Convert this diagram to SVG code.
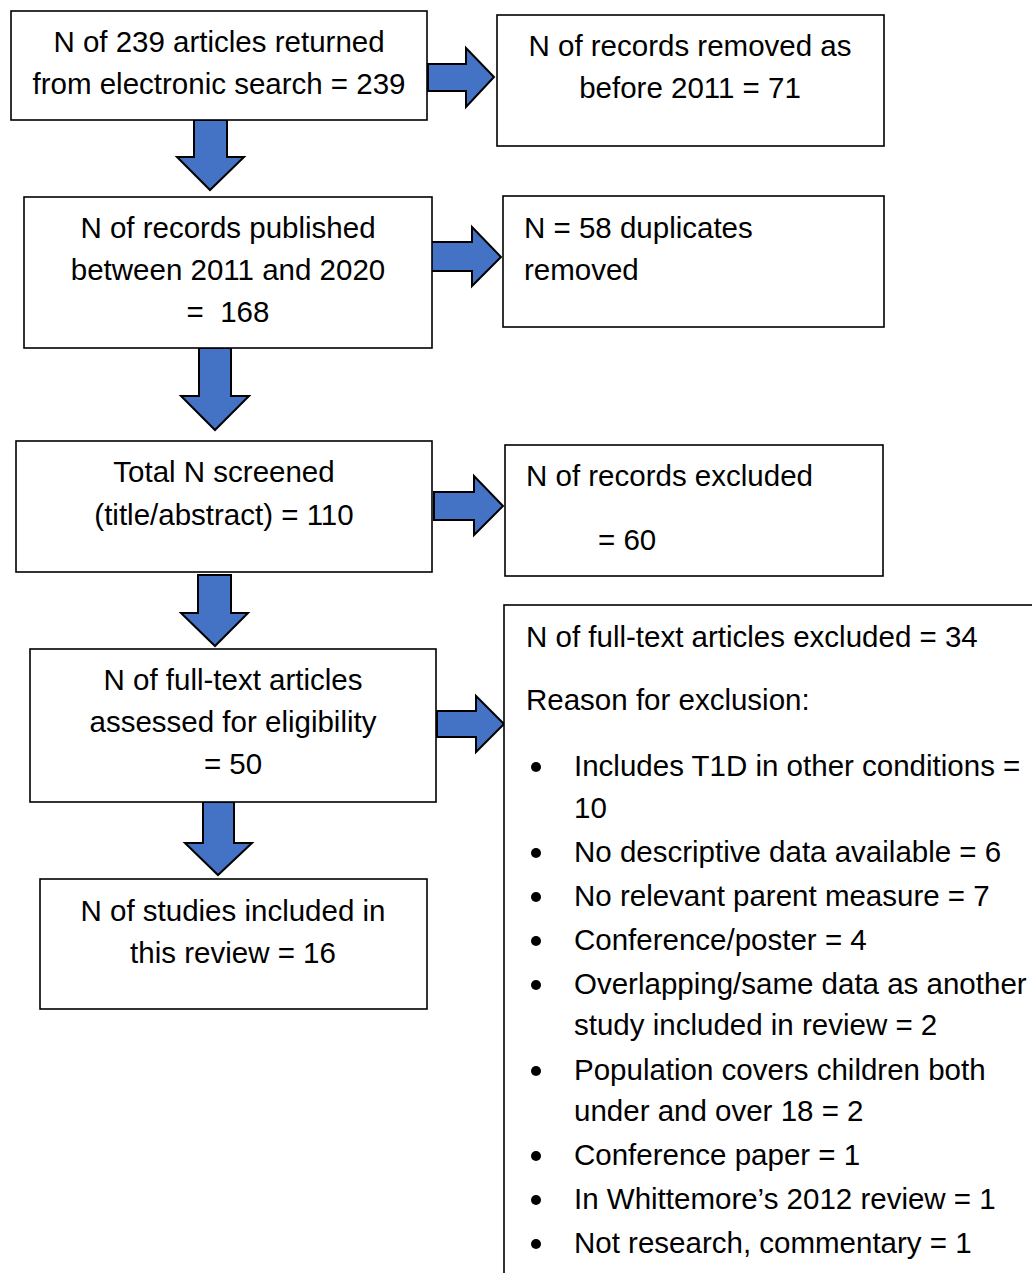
<svg xmlns="http://www.w3.org/2000/svg" width="1032" height="1273" viewBox="0 0 1032 1273">
<style>
.box{fill:#fff;stroke:#000;stroke-width:1.6}
.arr{fill:#4472C4;stroke:#000;stroke-width:2;stroke-linejoin:miter}
text{font-family:"Liberation Sans",Arial,sans-serif;font-size:29.5px;fill:#000}
.c{text-anchor:middle}
</style>
<rect width="1032" height="1273" fill="#fff"/>
<g id="connectors">
<polygon class="arr" points="428,64 466,64 466,48 494,77 466,107 466,91 428,91"/>
<polygon class="arr" points="194,120 227,120 227,157 244,157 210,190 177,157 194,157"/>
<polygon class="arr" points="431,242 472,242 472,227 501,257 472,286 472,271 431,271"/>
<polygon class="arr" points="199,348 231,348 231,396 249,396 215,430 181,396 199,396"/>
<polygon class="arr" points="434,492 474,492 474,476 503,506 474,535 474,520 434,520"/>
<polygon class="arr" points="198,575 231,575 231,613 248,613 215,646 181,613 198,613"/>
<polygon class="arr" points="437,711 476,711 476,696 504,724 476,752 476,737 437,737"/>
<polygon class="arr" points="203,802 234,802 234,843 252,843 218,875 185,843 203,843"/>
</g>
<g id="n1"><rect class="box" x="11" y="11" width="416" height="109"/>
<text class="c" x="219" y="52">N of 239 articles returned</text>
<text class="c" x="219" y="94">from electronic search = 239</text></g>
<g id="n2"><rect class="box" x="497" y="15" width="387" height="131"/>
<text class="c" x="690" y="56">N of records removed as</text>
<text class="c" x="690" y="98">before 2011 = 71</text></g>
<g id="n3"><rect class="box" x="24" y="197" width="408" height="151"/>
<text class="c" x="228" y="238">N of records published</text>
<text class="c" x="228" y="280">between 2011 and 2020</text>
<text class="c" x="228" y="322" xml:space="preserve">=  168</text></g>
<g id="n4"><rect class="box" x="503" y="196" width="381" height="131"/>
<text x="524" y="238">N = 58 duplicates</text>
<text x="524" y="280">removed</text></g>
<g id="n5"><rect class="box" x="16" y="441" width="416" height="131"/>
<text class="c" x="224" y="482">Total N screened</text>
<text class="c" x="224" y="525">(title/abstract) = 110</text></g>
<g id="n6"><rect class="box" x="505" y="445" width="378" height="131"/>
<text x="526" y="486">N of records excluded</text>
<text x="598" y="550">= 60</text></g>
<g id="n7"><rect class="box" x="30" y="649" width="406" height="153"/>
<text class="c" x="233" y="690">N of full-text articles</text>
<text class="c" x="233" y="732">assessed for eligibility</text>
<text class="c" x="233" y="774">= 50</text></g>
<g id="n8"><rect class="box" x="504" y="605" width="560" height="700"/>
<text x="526" y="647">N of full-text articles excluded = 34</text>
<text x="526" y="710">Reason for exclusion:</text>
<g fill="#000">
<circle cx="536" cy="767" r="5"/><circle cx="536" cy="853" r="5"/><circle cx="536" cy="897" r="5"/><circle cx="536" cy="941" r="5"/><circle cx="536" cy="985" r="5"/><circle cx="536" cy="1071" r="5"/><circle cx="536" cy="1156" r="5"/><circle cx="536" cy="1200" r="5"/><circle cx="536" cy="1244" r="5"/>
</g>
<text x="574" y="776">Includes T1D in other conditions =</text>
<text x="574" y="818">10</text>
<text x="574" y="862">No descriptive data available = 6</text>
<text x="574" y="906">No relevant parent measure = 7</text>
<text x="574" y="950">Conference/poster = 4</text>
<text x="574" y="994">Overlapping/same data as another</text>
<text x="574" y="1035">study included in review = 2</text>
<text x="574" y="1080">Population covers children both</text>
<text x="574" y="1121">under and over 18 = 2</text>
<text x="574" y="1165">Conference paper = 1</text>
<text x="574" y="1209">In Whittemore’s 2012 review = 1</text>
<text x="574" y="1253">Not research, commentary = 1</text></g>
<g id="n9"><rect class="box" x="40" y="879" width="387" height="130"/>
<text class="c" x="233" y="921">N of studies included in</text>
<text class="c" x="233" y="963">this review = 16</text></g>
</svg>
